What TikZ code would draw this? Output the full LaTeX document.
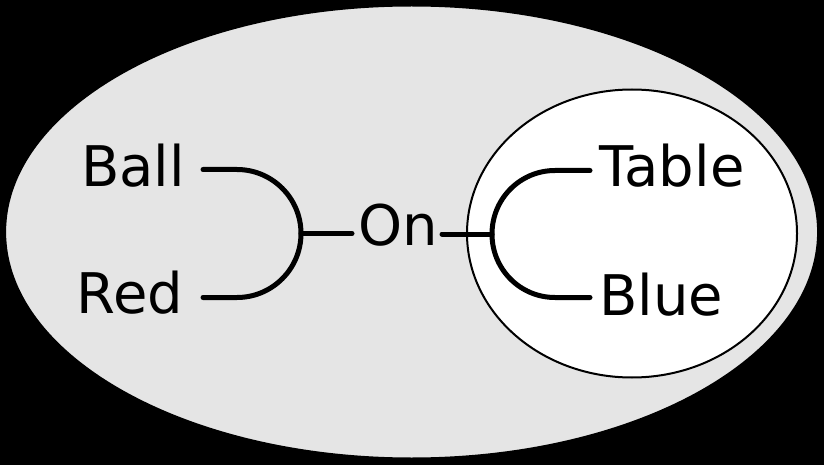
\documentclass[tikz,border=0pt]{standalone}
\usepackage{fontspec}
\setmainfont{DejaVu Sans}
\definecolor{outergray}{HTML}{E5E5E5}
\tikzset{
  lbl/.style={inner sep=0pt, anchor=base, font=\fontsize{56}{60}\selectfont},
  link/.style={line width=5pt, line cap=round, line join=round},
  bubble/.style={draw=black, line width=2pt}
}
\begin{document}
\begin{tikzpicture}[x=1pt,y=-1pt]
\useasboundingbox (0,0) rectangle (824,465);
\fill[black] (0,0) rectangle (824,465);
\path[bubble, fill=outergray] (411.6,232) ellipse [x radius=406.5, y radius=226.5];
\path[bubble, fill=white] (632,233.5) ellipse [x radius=165, y radius=144];
% labels
\node[lbl] (ball) at (133,186) {Ball};
\node[lbl] (red) at (130,313) {Red};
\node[lbl] (on) at (398,245) {On};
\node[lbl] (table) at (672,187) {Table};
\node[lbl] (blue) at (661,315) {Blue};
% connector coordinates
\coordinate (b1) at (203,169.5);
\coordinate (b2) at (237,169.5);
\coordinate (lj) at (301,233.5);
\coordinate (r2) at (237,297.5);
\coordinate (r1) at (203,297.5);
\coordinate (o1) at (352,233.5);
\coordinate (o2) at (442,234);
\coordinate (rj) at (492,234);
\coordinate (t2) at (555,170.5);
\coordinate (t1) at (590,170.5);
\coordinate (u2) at (555,297.5);
\coordinate (u1) at (590,297.5);
% left bracket
\draw[link] (b1) -- (b2) .. controls (272.3,169.5) and (301,198.2) .. (lj)
  .. controls (301,268.8) and (272.3,297.5) .. (r2) -- (r1);
\draw[link] (lj) -- (o1);
% right bracket
\draw[link] (t1) -- (t2) .. controls (520.2,170.5) and (492,198.7) .. (rj)
  .. controls (492,269.3) and (520.2,297.5) .. (u2) -- (u1);
\draw[link] (o2) -- (rj);
\end{tikzpicture}
\end{document}
